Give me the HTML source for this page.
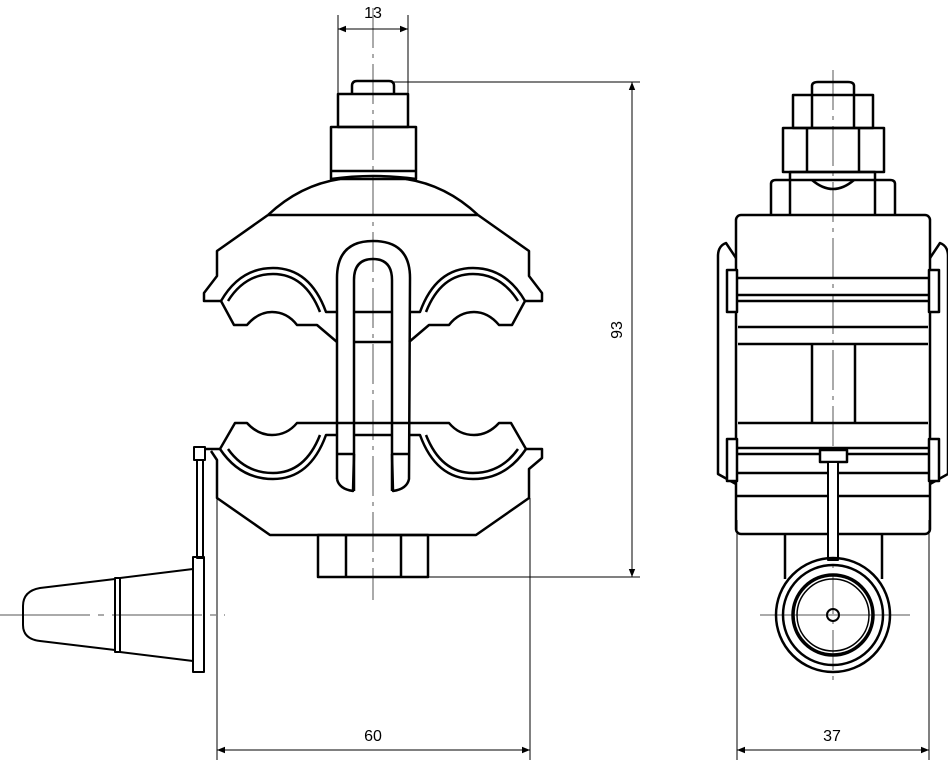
<!DOCTYPE html>
<html><head><meta charset="utf-8"><style>
html,body{margin:0;padding:0;background:#fff}
svg{display:block}
text{font-family:"Liberation Sans",sans-serif;font-size:16px;fill:#000}
</style></head><body>
<svg width="948" height="765" viewBox="0 0 948 765" xmlns="http://www.w3.org/2000/svg">
<defs>
<marker id="a" viewBox="0 0 10 10" refX="10" refY="5" markerWidth="10" markerHeight="8" orient="auto-start-reverse" markerUnits="userSpaceOnUse"><path d="M0,1 L10,5 L0,9z" fill="#000"/></marker>
</defs>
<g stroke="#555" stroke-width="1" fill="none">
<!-- centerlines -->
<line x1="373" y1="8" x2="373" y2="600" stroke-dasharray="40,6,4,6"/>
<line x1="833" y1="70" x2="833" y2="680" stroke-dasharray="40,6,4,6"/>
<line x1="0" y1="615" x2="225" y2="615" stroke-dasharray="90,8,6,8"/>
<line x1="760" y1="615" x2="910" y2="615"/>
</g>
<g stroke="#000" stroke-width="1" fill="none">
<!-- dim 13 -->
<line x1="338" y1="15" x2="338" y2="94"/>
<line x1="408" y1="15" x2="408" y2="94"/>
<line x1="338" y1="29" x2="408" y2="29" marker-start="url(#a)" marker-end="url(#a)"/>
<!-- dim 93 -->
<line x1="394" y1="82" x2="640" y2="82"/>
<line x1="428" y1="577" x2="640" y2="577"/>
<line x1="632" y1="82" x2="632" y2="577" marker-start="url(#a)" marker-end="url(#a)"/>
<!-- dim 60 -->
<line x1="217" y1="498" x2="217" y2="760"/>
<line x1="530" y1="498" x2="530" y2="760"/>
<line x1="217" y1="750" x2="530" y2="750" marker-start="url(#a)" marker-end="url(#a)"/>
<!-- dim 37 -->
<line x1="737" y1="520" x2="737" y2="760"/>
<line x1="929" y1="520" x2="929" y2="760"/>
<line x1="737" y1="750" x2="929" y2="750" marker-start="url(#a)" marker-end="url(#a)"/>
</g>
<text x="373" y="18" text-anchor="middle">13</text>
<text x="373" y="741" text-anchor="middle">60</text>
<text x="832" y="741" text-anchor="middle">37</text>
<text transform="translate(622,330) rotate(-90)" text-anchor="middle">93</text>

<!-- LEFT VIEW -->
<g stroke="#000" stroke-width="2.5" fill="none" stroke-linejoin="round">
<path d="M352,94 L352,86 Q352,81 357,81 L389,81 Q394,81 394,86 L394,94"/>
<rect x="338" y="94" width="70" height="33"/>
<rect x="331" y="127" width="85" height="52"/>
<line x1="331" y1="171" x2="416" y2="171"/>
<path d="M331,179 Q373,173 416,179"/>
<path d="M268,215 Q300,185 340,179 M406,179 Q446,185 478,215"/>
<line x1="268" y1="215" x2="478" y2="215"/>
<!-- upper jaw body -->
<path d="M268,215 L217,251 L217,276 L204,293 L204,301 L221,301"/>
<path d="M478,215 L529,251 L529,276 L542,293 L542,301 L525,301"/>
<!-- upper seats -->
<path d="M221,301 Q240,268 273,268 Q310,268 326,312 L337,312"/>
<path d="M228,301 Q245,274 273,274 Q305,274 320,312"/>
<path d="M525,301 Q506,268 473,268 Q436,268 420,312 L409,312"/>
<path d="M518,301 Q501,274 473,274 Q441,274 426,312"/>
<!-- upper jaw lower edge -->
<path d="M221,301 L234,325 L247,325 Q258,312 272,312 Q287,312 297,325 L317,325 L337,342"/>
<path d="M525,301 L512,325 L499,325 Q488,312 474,312 Q459,312 449,325 L429,325 L409,342"/>
<!-- U bolt -->
<path d="M337,479 L337,278 Q337,241 373,241 Q410,241 410,278 L409,479 Q407,489 393,491 L392,454"/>
<path d="M337,479 Q339,489 353,491 L354,454"/>
<path d="M354,491 L354,280 Q354,259 373,259 Q392,259 392,280 L392,491"/>
<line x1="354" y1="312" x2="392" y2="312"/>
<line x1="354" y1="342" x2="392" y2="342"/>
<line x1="337" y1="423" x2="409" y2="423"/>
<line x1="354" y1="435" x2="392" y2="435"/>
<line x1="337" y1="454" x2="354" y2="454"/>
<line x1="392" y1="454" x2="409" y2="454"/>
<!-- lower jaw -->
<path d="M337,423 L317,423 L297,423 Q287,435 272,435 Q258,435 247,423 L235,423 L220,449"/>
<path d="M409,423 L429,423 L449,423 Q459,435 474,435 Q488,435 499,423 L511,423 L526,449"/>
<path d="M220,449 Q240,479 273,479 Q310,479 326,435 L337,435"/>
<path d="M228,449 Q245,473 273,473 Q305,473 320,435"/>
<path d="M526,449 Q506,479 473,479 Q436,479 420,435 L409,435"/>
<path d="M518,449 Q501,473 473,473 Q441,473 426,435"/>
<path d="M205,449 L220,449 M211,451 L217,460 L217,498 L270,535 L476,535 L529,498 L529,469 L542,458 L542,449 L526,449"/>
<rect x="318" y="535" width="110" height="42"/>
<line x1="346" y1="535" x2="346" y2="577"/>
<line x1="401" y1="535" x2="401" y2="577"/>
<!-- terminal cap -->
<rect x="194" y="447" width="11" height="13" stroke-width="2"/>
<rect x="197" y="460" width="6" height="98" stroke-width="2"/>
<rect x="193" y="557" width="11" height="115" stroke-width="2"/>
<path d="M193,569 L120,578 L120,652 L193,661" stroke-width="2"/>
<rect x="115" y="578" width="5" height="74" stroke-width="2"/>
<path d="M115,579 L40,588 Q23,591 23,606 L23,625 Q23,639 40,641 L115,650" stroke-width="2"/>
</g>

<!-- RIGHT VIEW -->
<g stroke="#000" stroke-width="2.5" fill="none" stroke-linejoin="round">
<path d="M812,95 L812,86 Q812,82 818,82 L848,82 Q854,82 854,86 L854,95"/>
<rect x="793" y="95" width="80" height="33"/>
<line x1="812" y1="95" x2="812" y2="128"/><line x1="854" y1="95" x2="854" y2="128"/>
<rect x="783" y="128" width="101" height="44"/>
<line x1="807" y1="128" x2="807" y2="172"/><line x1="859" y1="128" x2="859" y2="172"/>
<rect x="790" y="172" width="85" height="8"/>
<path d="M812,180 Q833,198 854,180"/>
<path d="M771,215 L771,184 Q771,180 776,180 L790,180 M875,180 L890,180 Q895,180 895,184 L895,215"/>
<line x1="790" y1="180" x2="790" y2="215"/><line x1="875" y1="180" x2="875" y2="215"/>
<rect x="736" y="215" width="194" height="319" rx="5"/>
<line x1="736" y1="278" x2="930" y2="278"/>
<line x1="736" y1="295" x2="930" y2="295"/>
<line x1="736" y1="301" x2="930" y2="301"/>
<line x1="738" y1="327" x2="928" y2="327"/>
<line x1="738" y1="344" x2="928" y2="344"/>
<line x1="812" y1="344" x2="812" y2="423"/>
<line x1="855" y1="344" x2="855" y2="423"/>
<line x1="738" y1="423" x2="928" y2="423"/>
<line x1="736" y1="448" x2="930" y2="448"/>
<line x1="736" y1="454" x2="930" y2="454"/>
<line x1="736" y1="473" x2="930" y2="473"/>
<line x1="736" y1="496" x2="930" y2="496"/>
<!-- side clips -->
<path d="M736,258 L726,243 Q718,246 718,256 L718,474 L736,484"/>
<path d="M930,258 L940,243 Q948,246 948,256 L948,474 L930,484"/>
<rect x="727" y="270" width="10" height="42" fill="#fff"/>
<rect x="727" y="439" width="10" height="42" fill="#fff"/>
<rect x="929" y="270" width="10" height="42" fill="#fff"/>
<rect x="929" y="439" width="10" height="42" fill="#fff"/>
<rect x="820" y="450" width="27" height="12" fill="#fff"/>
<rect x="828" y="462" width="10" height="98" stroke-width="2" fill="#fff"/>
<path d="M785,534 L785,579 M882,534 L882,579"/>
<circle cx="833" cy="615" r="57" fill="none"/>
<circle cx="833" cy="615" r="50"/>
<circle cx="833" cy="615" r="40" stroke-width="3.5"/>
<circle cx="833" cy="615" r="36" stroke-width="1.5"/>
<circle cx="833" cy="615" r="6" stroke-width="2"/>
</g>
</svg>
</body></html>
